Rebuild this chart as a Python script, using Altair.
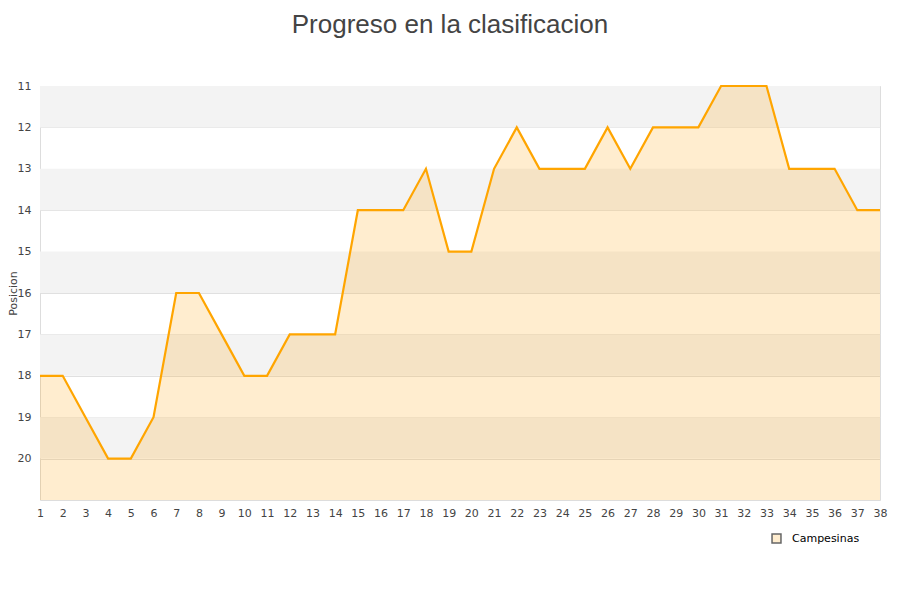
import altair as alt
import pandas as pd

jornadas = list(range(1, 39))
posiciones = [18, 18, 19, 20, 20, 19, 16, 16, 17, 18,
              18, 17, 17, 17, 14, 14, 14, 13, 15, 15,
              13, 12, 13, 13, 13, 12, 13, 12, 12, 12,
              11, 11, 11, 13, 13, 13, 14, 14]
serie = "Campesinas"
band_starts = [11, 13, 15, 17, 19]

df = pd.DataFrame({"jornada": jornadas, "pos": posiciones, "serie": [serie] * len(jornadas)})
bands = pd.DataFrame({"y": band_starts, "y2": [b + 1 for b in band_starts]})

xscale = alt.Scale(domain=[1, 38], nice=False, zero=False)
yscale = alt.Scale(domain=[11, 21], reverse=True, nice=False, zero=False)

xaxis = alt.Axis(values=jornadas, title=None, grid=False, domain=False, ticks=False,
                 labelFontSize=11, labelColor="#444", labelPadding=7, labelFont="DejaVu Sans",
                 labelFlush=False, labelOverlap=False, labelBound=False)

band_layer = alt.Chart(bands).mark_rect(color="#f3f3f3").encode(
    x=alt.datum(1, scale=xscale, axis=xaxis),
    x2=alt.datum(38),
    y=alt.Y("y:Q", scale=yscale),
    y2="y2:Q",
)

base = alt.Chart(df)

area = base.mark_area(color="#ffa50f", fillOpacity=0.2).encode(
    x=alt.X("jornada:Q", scale=xscale, axis=xaxis),
    y=alt.Y("pos:Q", scale=yscale,
            axis=alt.Axis(values=list(range(11, 21)), title="Posicion", grid=True, gridColor="#e0e0e0",
                          domain=False, ticks=False, labelFontSize=11, labelColor="#444",
                          labelPadding=9, labelFont="DejaVu Sans", titleFont="DejaVu Sans",
                          titleFontSize=11, titleFontWeight="normal", titleColor="#444",
                          titleX=-22, titleY=207, titleAlign="center", titleBaseline="bottom",
                          titleAngle=270)),
    y2=alt.datum(21),
)

line = base.mark_line(color="#ffa500", strokeWidth=2.2).encode(
    x=alt.X("jornada:Q", scale=xscale, axis=xaxis),
    y=alt.Y("pos:Q", scale=yscale),
)

legend_layer = base.mark_square(opacity=0, size=1).encode(
    x=alt.X("jornada:Q", scale=xscale, axis=xaxis),
    y=alt.Y("pos:Q", scale=yscale),
    fill=alt.Fill("serie:N", scale=alt.Scale(domain=[serie], range=["#ffedcf"]),
                  legend=alt.Legend(title=None, orient="none", legendX=731, legendY=447,
                                    symbolType="square", symbolSize=80,
                                    symbolStrokeColor="#666666", symbolStrokeWidth=1.5,
                                    symbolOpacity=1, labelFontSize=11, labelColor="#000",
                                    labelFont="DejaVu Sans", labelOffset=10)),
)

chart = alt.layer(band_layer, area, line, legend_layer).properties(
    width=840,
    height=414,
    title=alt.TitleParams("Progreso en la clasificacion", fontSize=26, font="Liberation Sans",
                          fontWeight="normal", color="#444", anchor="middle", offset=42, dx=-10),
    autosize=alt.AutoSizeParams(type="none"),
    padding={"left": 32, "top": 78, "right": 12, "bottom": 84},
).configure_view(stroke="#dddddd").configure_axisX(labelOverlap=False)

chart.save("out.html", embed_options={"renderer": "svg", "actions": False})
